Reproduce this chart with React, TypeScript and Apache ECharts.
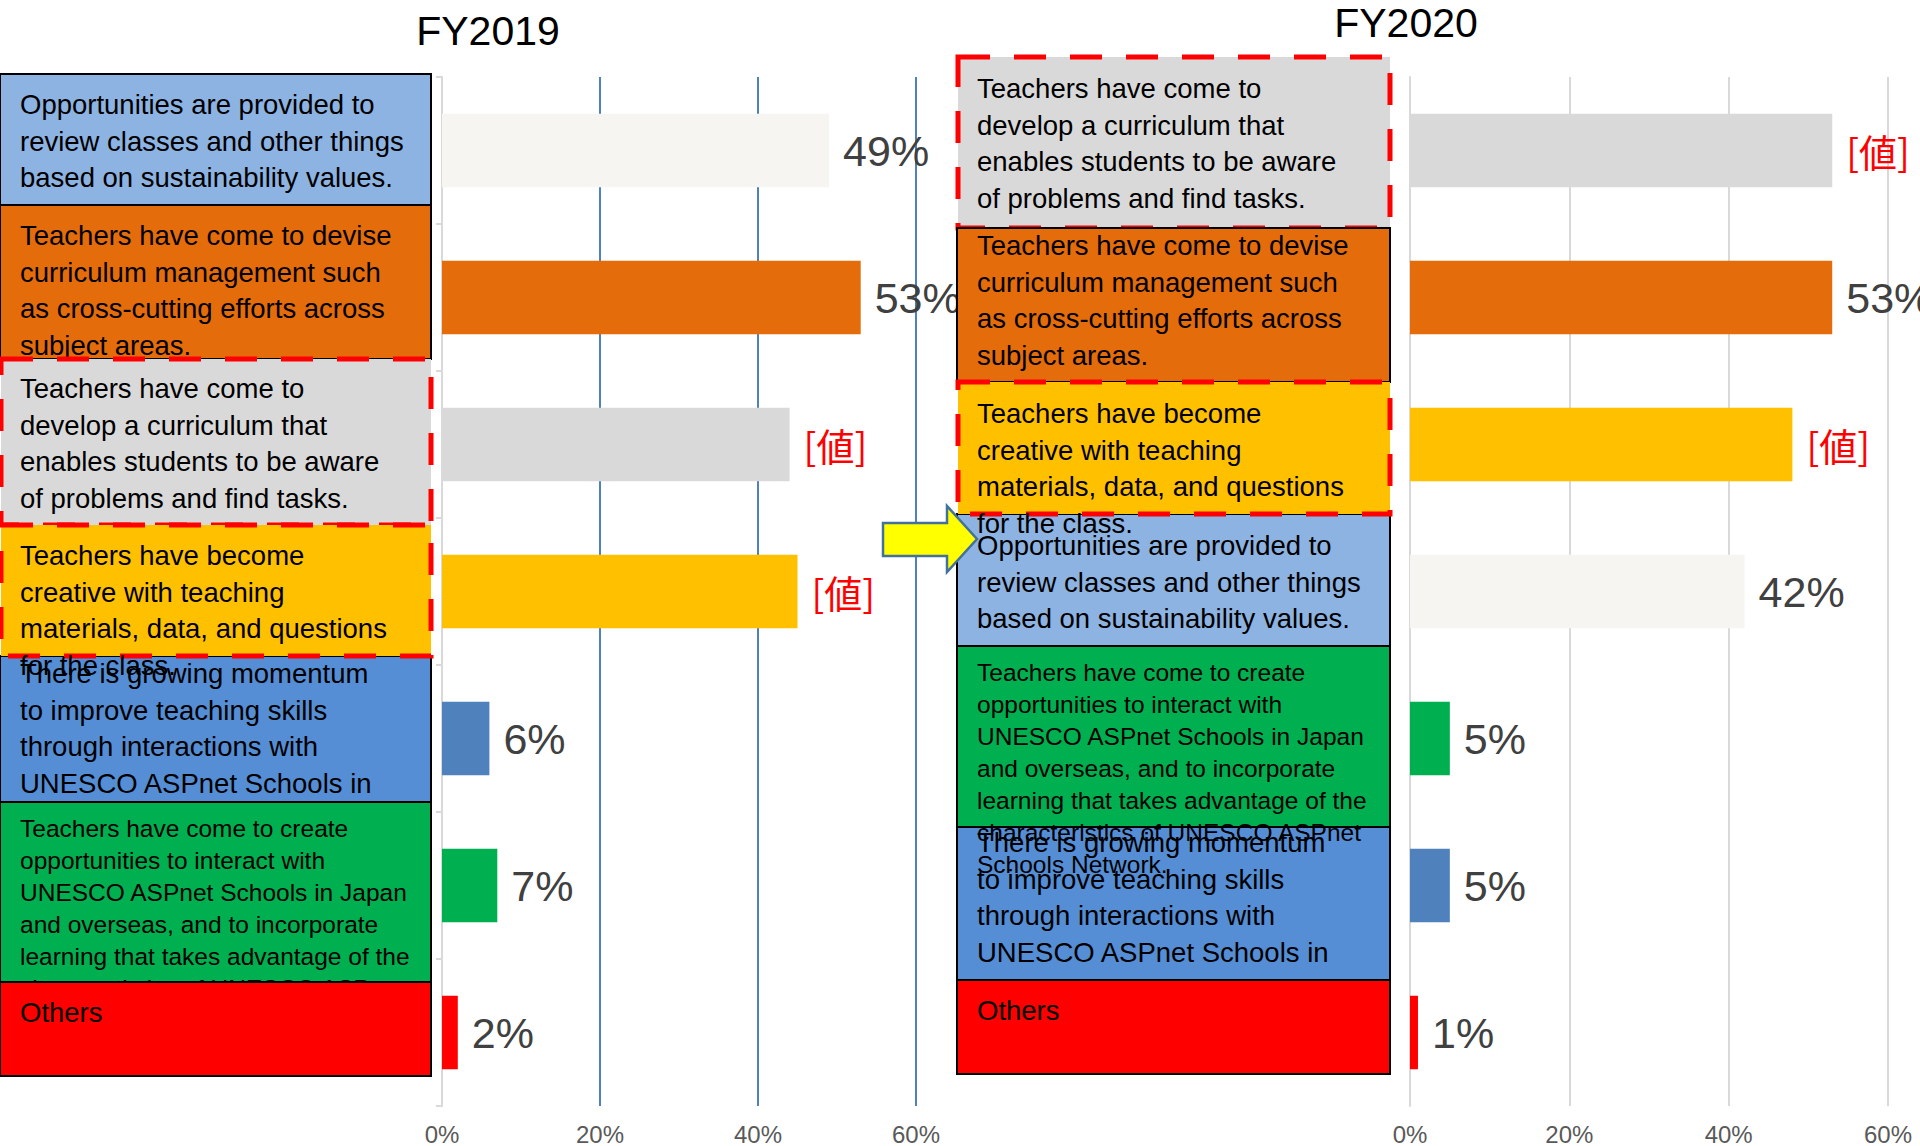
import React, { useEffect, useRef } from "react";
import * as echarts from "echarts";

// ---------- data ----------
const CAT_REVIEW = "Opportunities are provided to\nreview classes and other things\nbased on sustainability values.";
const CAT_DEVISE = "Teachers have come to devise\ncurriculum management such\nas cross-cutting efforts across\nsubject areas.";
const CAT_AWARE = "Teachers have come to\ndevelop a curriculum that\nenables students to be aware\nof problems and find tasks.";
const CAT_CREATIVE = "Teachers have become\ncreative with teaching\nmaterials, data, and questions\nfor the class.";
const CAT_MOMENTUM = "There is growing momentum\nto improve teaching skills\nthrough interactions with\nUNESCO ASPnet Schools in\nJapan and overseas.";
const CAT_EXCHANGE = "Teachers have come to create\nopportunities to interact with\nUNESCO ASPnet Schools in Japan\nand overseas, and to incorporate\nlearning that takes advantage of the\ncharacteristics of UNESCO ASPnet\nSchools Network.";
const CAT_OTHERS = "Others";

const titles = ["FY2019", "FY2020"];

const categories2019 = [CAT_REVIEW, CAT_DEVISE, CAT_AWARE, CAT_CREATIVE, CAT_MOMENTUM, CAT_EXCHANGE, CAT_OTHERS];
const values2019 = [49, 53, 44, 45, 6, 7, 2];
const labels2019 = ["49%", "53%", "[値]", "[値]", "6%", "7%", "2%"];

const categories2020 = [CAT_AWARE, CAT_DEVISE, CAT_CREATIVE, CAT_REVIEW, CAT_EXCHANGE, CAT_MOMENTUM, CAT_OTHERS];
const values2020 = [53, 53, 48, 42, 5, 5, 1];
const labels2020 = ["[値]", "53%", "[値]", "42%", "5%", "5%", "1%"];

const xTicks = [0, 20, 40, 60];
const PLACEHOLDER = "[値]";

// ---------- styles ----------
const barColors2019 = ["#F6F5F1", "#E46C0A", "#D9D9D9", "#FFC000", "#4F81BD", "#00B050", "#FF0000"];
const barColors2020 = ["#D9D9D9", "#E46C0A", "#FFC000", "#F6F5F1", "#00B050", "#4F81BD", "#FF0000"];

const LABEL_FONT = "'Liberation Sans', Arial, sans-serif";
const BOX_FONT = "'Liberation Sans', Arial, sans-serif";

type BoxLayout = { top: number; bottom: number; fill: string; dashed?: boolean; textTop: number; small?: boolean };

const leftBoxLayout: BoxLayout[] = [
  { top: 74, bottom: 205, fill: "#8DB3E2", textTop: 86 },
  { top: 205, bottom: 359, fill: "#E46C0A", textTop: 217 },
  { top: 359, bottom: 525, fill: "#D9D9D9", dashed: true, textTop: 370 },
  { top: 525, bottom: 656, fill: "#FFC000", dashed: true, textTop: 537 },
  { top: 656, bottom: 802, fill: "#558ED5", textTop: 655 },
  { top: 802, bottom: 982, fill: "#00B050", textTop: 812, small: true },
  { top: 982, bottom: 1076, fill: "#FF0000", textTop: 994 },
];
const leftDrawOrder = [0, 1, 2, 4, 3, 5, 6];

const rightBoxLayout: BoxLayout[] = [
  { top: 57, bottom: 228, fill: "#D9D9D9", dashed: true, textTop: 70 },
  { top: 228, bottom: 382, fill: "#E46C0A", textTop: 227 },
  { top: 382, bottom: 514, fill: "#FFC000", dashed: true, textTop: 395 },
  { top: 514, bottom: 646, fill: "#8DB3E2", textTop: 527 },
  { top: 646, bottom: 827, fill: "#00B050", textTop: 656, small: true },
  { top: 827, bottom: 980, fill: "#558ED5", textTop: 824 },
  { top: 980, bottom: 1074, fill: "#FF0000", textTop: 992 },
];
const rightDrawOrder = [0, 1, 3, 2, 5, 4, 6];

function buildBoxes(cats: string[], layout: BoxLayout[], order: number[], x0: number, x1: number, textX: number, zBase: number) {
  const els: any[] = [];
  let z = zBase;
  order.forEach((i) => {
    const b = layout[i];
    if (b.dashed) {
      els.push({
        type: "rect",
        silent: true,
        z: z++,
        shape: { x: x0 + 1, y: b.top, width: x1 - x0 - 1, height: b.bottom - b.top },
        style: { fill: b.fill, stroke: "#FF0000", lineWidth: 5, lineDash: [32, 24] },
      });
    } else {
      els.push({
        type: "rect",
        silent: true,
        z: z++,
        shape: { x: x0, y: b.top, width: x1 - x0, height: b.bottom - b.top },
        style: { fill: b.fill, stroke: "#000000", lineWidth: 2 },
      });
    }
    els.push({
      type: "text",
      silent: true,
      z: z++,
      x: textX,
      y: b.textTop,
      style: {
        text: cats[i],
        fill: "#000000",
        fontFamily: BOX_FONT,
        fontSize: b.small ? 24.5 : 27.5,
        lineHeight: b.small ? 32 : 36.7,
        verticalAlign: "top",
        align: "left",
      },
    });
  });
  return els;
}

function makeSeries(values: number[], labels: string[], colors: string[], idx: number) {
  return {
    type: "bar",
    xAxisIndex: idx,
    yAxisIndex: idx,
    barCategoryGap: "50%",
    data: values.map((v, i) => ({ value: v, itemStyle: { color: colors[i] } })),
    label: {
      show: true,
      position: "right",
      distance: 14,
      fontSize: 43,
      color: "#404040",
      fontFamily: LABEL_FONT,
      formatter: (p: any) => {
        const t = labels[p.dataIndex];
        return t === PLACEHOLDER ? "{ph|" + t + "}" : t;
      },
      rich: {
        ph: { color: "#FF0000", fontSize: 38, fontFamily: "'Noto Sans CJK JP', sans-serif" },
      },
    },
  };
}

function makeXAxis(idx: number, gridColor: string) {
  return {
    type: "value",
    gridIndex: idx,
    min: xTicks[0],
    max: xTicks[xTicks.length - 1],
    interval: xTicks[1] - xTicks[0],
    axisLine: { show: false },
    axisTick: { show: false },
    splitLine: { show: true, showMinLine: false, lineStyle: { color: gridColor, width: 2 } },
    axisLabel: { formatter: "{value}%", fontSize: 24, color: "#595959", margin: 16, fontFamily: LABEL_FONT },
  };
}

function makeYAxis(idx: number, cats: string[], ticks: boolean) {
  return {
    type: "category",
    gridIndex: idx,
    inverse: true,
    data: cats,
    axisLabel: { show: false },
    axisLine: { show: true, lineStyle: { color: "#D9D9D9", width: 2 } },
    axisTick: { show: ticks, length: 6, lineStyle: { color: "#D9D9D9", width: 2 } },
    splitLine: { show: false },
  };
}

export default function App() {
  const ref = useRef<HTMLDivElement>(null);
  useEffect(() => {
    if (!ref.current) return;
    const chart = echarts.init(ref.current, undefined, { renderer: "svg" });
    const graphics: any[] = [
      {
        type: "text",
        silent: true,
        z: 5,
        x: 488,
        y: 31,
        style: { text: titles[0], fill: "#000", fontSize: 41, fontFamily: BOX_FONT, align: "center", verticalAlign: "middle" },
      },
      {
        type: "text",
        silent: true,
        z: 5,
        x: 1406,
        y: 23,
        style: { text: titles[1], fill: "#000", fontSize: 41, fontFamily: BOX_FONT, align: "center", verticalAlign: "middle" },
      },
      ...buildBoxes(categories2019, leftBoxLayout, leftDrawOrder, 0, 431, 20, 10),
      ...buildBoxes(categories2020, rightBoxLayout, rightDrawOrder, 957, 1390, 977, 40),
      {
        type: "polygon",
        silent: true,
        z: 80,
        shape: {
          points: [
            [883, 523],
            [947, 523],
            [947, 506],
            [977, 539],
            [947, 572],
            [947, 556],
            [883, 556],
          ],
        },
        style: { fill: "#FFFF00", stroke: "#41719C", lineWidth: 2.5 },
      },
    ];
    chart.setOption({
      animation: false,
      backgroundColor: "#FFFFFF",
      grid: [
        { left: 442, top: 77, width: 474, height: 1030 },
        { left: 1410, top: 77, width: 478, height: 1030 },
      ],
      xAxis: [makeXAxis(0, "#4F81BD"), makeXAxis(1, "#D9D9D9")],
      yAxis: [makeYAxis(0, categories2019, true), makeYAxis(1, categories2020, false)],
      series: [makeSeries(values2019, labels2019, barColors2019, 0), makeSeries(values2020, labels2020, barColors2020, 1)],
      graphic: { elements: graphics },
    });
    return () => chart.dispose();
  }, []);
  return (
    <div
      ref={ref}
      style={{ position: "fixed", left: 0, top: 0, width: 1920, height: 1146, background: "#fff" }}
    />
  );
}
